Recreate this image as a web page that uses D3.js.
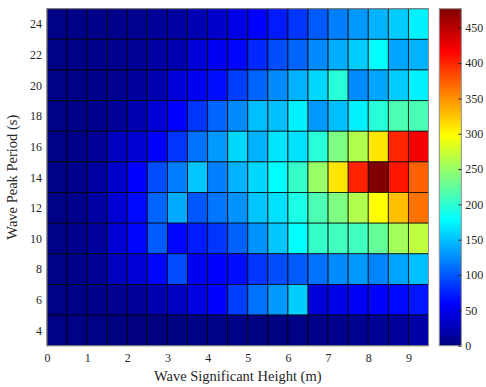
<!DOCTYPE html>
<html>
<head>
<meta charset="utf-8">
<script src="https://cdn.jsdelivr.net/npm/d3@7"></script>
<style>
  body { margin: 0; background: #fff; }
  svg text { font-family: "Liberation Serif", "Times New Roman", serif !important; fill: #262626; }
</style>
</head>
<body>
<svg id="canvas"></svg>
<script>
// wave height bins (m), lower edges, 0.5 m wide
const heights = d3.range(19).map(i => i * 0.5);
// wave period bins (s), centres, 2 s wide (top row first)
const periods = [24, 22, 20, 18, 16, 14, 12, 10, 8, 6, 4];

// occurrence counts, one row per period, one value per height bin
const counts = [
  [2, 3, 4, 5, 8, 12, 15, 24, 36, 48, 60, 72, 85, 102, 119, 131, 143, 155, 173],
  [2, 3, 5, 7, 10, 16, 22, 42, 54, 62, 78, 95, 107, 125, 141, 155, 179, 137, 143],
  [2, 3, 5, 8, 14, 22, 42, 54, 66, 89, 107, 125, 143, 161, 197, 125, 137, 155, 173],
  [2, 4, 7, 12, 22, 40, 60, 84, 107, 125, 149, 149, 173, 131, 149, 173, 197, 215, 213],
  [3, 5, 12, 30, 38, 60, 84, 113, 131, 161, 143, 167, 165, 197, 238, 262, 310, 400, 423],
  [3, 6, 15, 36, 60, 95, 119, 152, 119, 143, 161, 179, 203, 250, 310, 402, 477, 407, 372],
  [3, 6, 16, 40, 64, 107, 139, 100, 115, 128, 152, 165, 191, 215, 238, 262, 298, 328, 364],
  [3, 6, 14, 40, 62, 102, 62, 72, 84, 105, 128, 153, 179, 203, 209, 209, 226, 256, 268],
  [3, 5, 10, 30, 40, 62, 95, 54, 60, 66, 84, 95, 102, 113, 125, 131, 122, 137, 149],
  [2, 3, 5, 8, 12, 22, 30, 45, 60, 89, 113, 131, 155, 42, 50, 56, 60, 64, 70],
  [2, 2, 2, 1, 0, 0, 1, 2, 3, 2, 1, 1, 2, 4, 6, 8, 10, 14, 18]
];

const xTicks = d3.range(0, 10);
const yTicks = [4, 6, 8, 10, 12, 14, 16, 18, 20, 22, 24];
const cbTicks = [0, 50, 100, 150, 200, 250, 300, 350, 400, 450];

const width = 486, height = 387;
const svg = d3.select("#canvas").attr("width", width).attr("height", height);
const serif = "'Liberation Serif', 'Times New Roman', serif";

const marginLeft = 47, plotRight = 428.5, marginTop = 8.7, plotBottom = 345.7;

const xScale = d3.scaleLinear().domain([0, 9.5]).range([marginLeft, plotRight]);
const yScale = d3.scaleLinear().domain([3, 25]).range([plotBottom, marginTop]);

// MATLAB jet
function jet(t) {
  const c = v => Math.max(0, Math.min(1, v));
  const r = c(1.5 - Math.abs(4 * t - 3));
  const g = c(1.5 - Math.abs(4 * t - 2));
  const b = c(1.5 - Math.abs(4 * t - 1));
  return d3.rgb(r * 255, g * 255, b * 255).formatHex();
}
const cmax = d3.max(counts, r => d3.max(r));
const color = v => jet(v / cmax);

// cells
const cells = [];
counts.forEach((row, i) => row.forEach((v, j) => cells.push({ h: heights[j], p: periods[i], v })));

svg.append("g")
  .selectAll("rect")
  .data(cells)
  .join("rect")
  .attr("x", d => xScale(d.h))
  .attr("y", d => yScale(d.p + 1))
  .attr("width", d => xScale(d.h + 0.5) - xScale(d.h))
  .attr("height", d => yScale(d.p - 1) - yScale(d.p + 1))
  .attr("fill", d => color(d.v))
  .attr("stroke", "#000")
  .attr("stroke-opacity", 0.8)
  .attr("stroke-width", 0.9);

// axes
const xAxis = svg.append("g")
  .attr("transform", `translate(0,${plotBottom})`)
  .call(d3.axisBottom(xScale).tickValues(xTicks).tickSize(0).tickPadding(8));
const yAxis = svg.append("g")
  .attr("transform", `translate(${marginLeft},0)`)
  .call(d3.axisLeft(yScale).tickValues(yTicks).tickSize(0).tickPadding(5));
[xAxis, yAxis].forEach(g => {
  g.select(".domain").remove();
  g.attr("font-family", serif).attr("font-size", 12);
  g.selectAll("text").style("font-family", serif);
});

// box
svg.append("rect")
  .attr("x", marginLeft).attr("y", marginTop)
  .attr("width", plotRight - marginLeft).attr("height", plotBottom - marginTop)
  .attr("fill", "none").attr("stroke", "#8c8c8c").attr("stroke-width", 1);

svg.append("text")
  .attr("x", (marginLeft + plotRight) / 2).attr("y", 381)
  .attr("text-anchor", "middle").attr("font-size", 14.5)
  .style("font-family", serif)
  .text("Wave Significant Height (m)");

svg.append("text")
  .attr("transform", `translate(17,${(marginTop + plotBottom) / 2}) rotate(-90)`)
  .attr("text-anchor", "middle").attr("font-size", 14.5)
  .style("font-family", serif)
  .text("Wave Peak Period (s)");

// colorbar
const cbX = 439.3, cbW = 22;
const cbScale = d3.scaleLinear().domain([0, cmax]).range([plotBottom, marginTop]);
const grad = svg.append("defs").append("linearGradient")
  .attr("id", "jet").attr("x1", 0).attr("y1", 1).attr("x2", 0).attr("y2", 0);
grad.selectAll("stop")
  .data(d3.range(0, 1.0001, 0.0625))
  .join("stop")
  .attr("offset", d => d)
  .attr("stop-color", d => jet(d));

svg.append("rect")
  .attr("x", cbX).attr("y", marginTop)
  .attr("width", cbW).attr("height", plotBottom - marginTop)
  .attr("fill", "url(#jet)")
  .attr("stroke", "#8c8c8c").attr("stroke-width", 1);

const cbAxis = svg.append("g")
  .attr("transform", `translate(${cbX + cbW},0)`)
  .call(d3.axisRight(cbScale).tickValues(cbTicks).tickSize(-3).tickPadding(4));
cbAxis.select(".domain").remove();
cbAxis.attr("font-family", serif).attr("font-size", 12);
cbAxis.selectAll("text").style("font-family", serif);
cbAxis.selectAll("line").attr("stroke", "#262626");
</script>
</body>
</html>
